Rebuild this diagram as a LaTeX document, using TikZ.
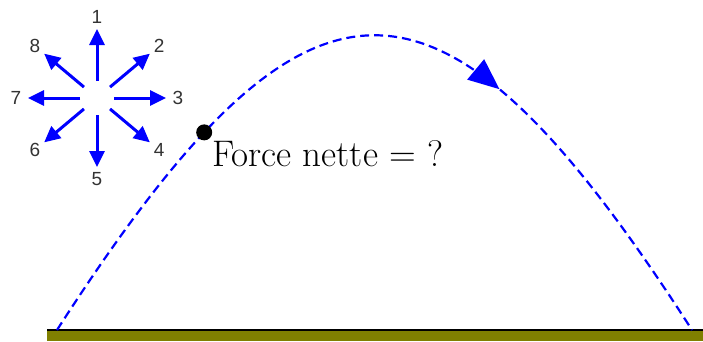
\documentclass[tikz,border=0pt]{standalone}
\usepackage{fontspec}
\newfontfamily\digitfont{Liberation Sans}
\usetikzlibrary{arrows.meta, decorations.markings, positioning}
\definecolor{Path}{HTML}{0000FF}
\definecolor{Ground}{HTML}{808000}
\definecolor{Digit}{HTML}{333333}
\tikzset{
    dirarrow/.style={-{Triangle[length=16pt,width=15pt]}, line width=3pt, color=Path},
    dirlabel/.style={text=Digit, font=\digitfont\fontsize{19}{19}\selectfont, inner sep=0pt},
    trajectory/.style={color=Path, line width=2.2pt, dash pattern=on 9pt off 5pt,
        postaction={decorate},
        decoration={markings, mark=at position 0.655 with {\arrow{Triangle[length=31pt,width=26pt]}}}},
    ball/.style={circle, fill=black, inner sep=0pt, minimum size=16pt},
}
\begin{document}
\begin{tikzpicture}[x=1pt, y=-1pt]
    \useasboundingbox[fill=white] (0,0) rectangle (703,341);
    % ground
    \fill[Ground] (47,331) rectangle (703,341);
    \draw[black, line width=2pt] (47,330) -- (703,330);
    % trajectory
    \coordinate (launch) at (57,330);
    \coordinate (land) at (692,330);
    \draw[trajectory] (launch) .. controls (310,-63) and (439,-63) .. (land);
    \path (launch) .. controls (310,-63) and (439,-63) .. (land) node[pos=0.213, ball] (ball) {};
    \node[anchor=base west, inner sep=0pt, font=\fontsize{37}{37}\selectfont] (force) at (212,166) {Force nette = ?};
    % directions
    \coordinate (hub) at (97,98);
    \foreach \i/\a in {1/90,2/40,3/0,4/-40,5/-90,6/-140,7/180,8/140} {
        \coordinate (s\i) at ([shift={(\a:17pt)}]hub);
        \coordinate (t\i) at ([shift={(\a:69pt)}]hub);
        \node[dirlabel] (d\i) at ([shift={(\a:81pt)}]hub) {\i};
        \draw[dirarrow] (s\i) -- (t\i);
    }
\end{tikzpicture}
\end{document}
